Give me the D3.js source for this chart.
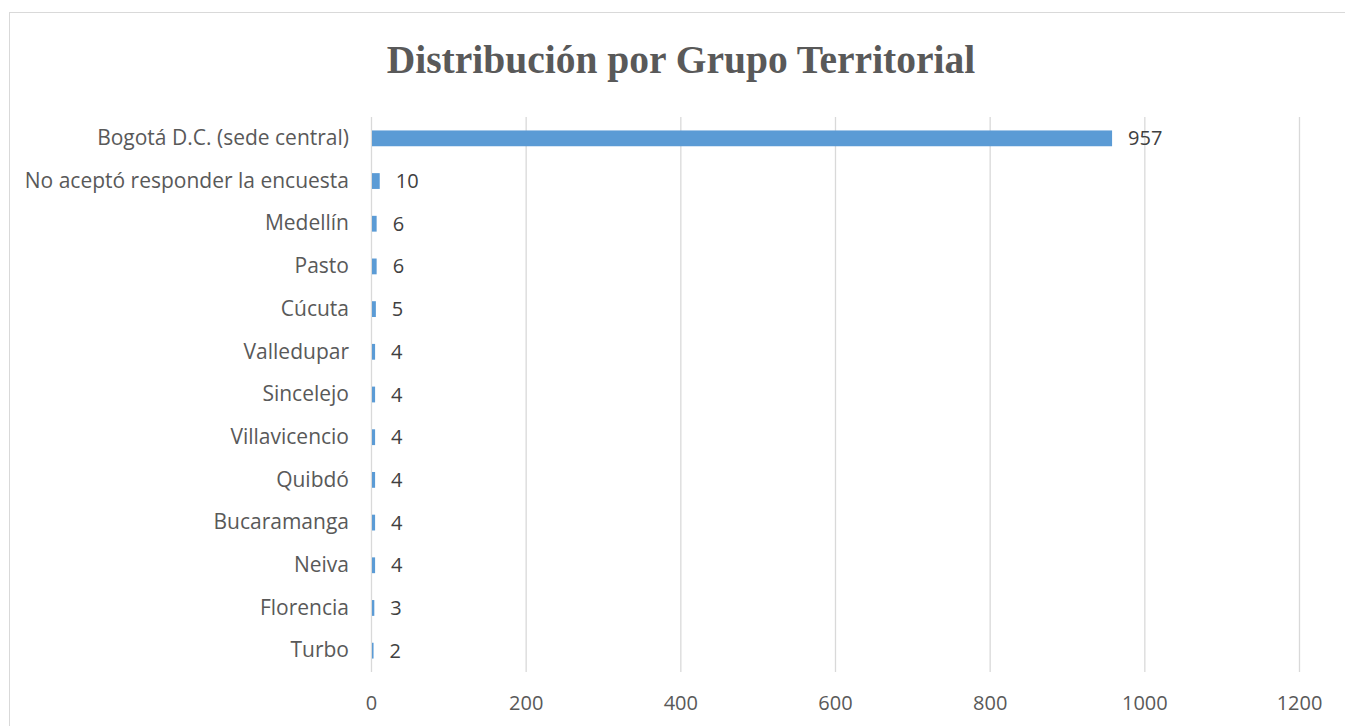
<!DOCTYPE html>
<html>
<head>
<meta charset="utf-8">
<script src="https://cdn.jsdelivr.net/npm/d3@7"></script>
<style>
  body { margin: 0; background: #fff; }
  .tick text { font-family: "Open Sans", sans-serif; }
</style>
</head>
<body>
<div class="chart"></div>
<script>
var categories = ["Bogotá D.C. (sede central)", "No aceptó responder la encuesta", "Medellín", "Pasto",
  "Cúcuta", "Valledupar", "Sincelejo", "Villavicencio", "Quibdó", "Bucaramanga", "Neiva", "Florencia", "Turbo"];
var values = [957, 10, 6, 6, 5, 4, 4, 4, 4, 4, 4, 3, 2];
var xTicks = [0, 200, 400, 600, 800, 1000, 1200];

var svgWidth = 1345;
var svgHeight = 726;
var margin = { top: 117, right: 46, bottom: 54, left: 371 };
var width = svgWidth - margin.left - margin.right;
var height = svgHeight - margin.top - margin.bottom;

var root = d3.select(".chart")
  .append("svg")
  .attr("width", svgWidth)
  .attr("height", svgHeight);

// chart frame
root.append("rect")
  .attr("x", 9.5).attr("y", 12.5)
  .attr("width", svgWidth).attr("height", svgHeight)
  .attr("fill", "none")
  .attr("stroke", "#d9d9d9");

root.append("text")
  .attr("x", 681)
  .attr("y", 73)
  .attr("text-anchor", "middle")
  .attr("font-family", "'Liberation Serif', serif")
  .attr("font-weight", "bold")
  .attr("font-size", 39.5)
  .attr("fill", "#595959")
  .text("Distribución por Grupo Territorial");

var chart = root.append("g")
  .attr("transform", "translate(" + margin.left + "," + margin.top + ")");

var x = d3.scaleLinear().domain([0, 1200]).range([0, width]);
var y = d3.scaleBand().domain(categories).range([0, height]).paddingInner(0.63).paddingOuter(0.315);

// gridlines
chart.append("g")
  .selectAll("line")
  .data(xTicks)
  .enter().append("line")
    .attr("x1", function(d) { return x(d) + 0.5; })
    .attr("x2", function(d) { return x(d) + 0.5; })
    .attr("y1", 0)
    .attr("y2", height)
    .attr("stroke", "#d9d9d9")
    .attr("stroke-width", 1.3);

var bottomAxis = d3.axisBottom(x).tickValues(xTicks).tickFormat(d3.format("d")).tickSize(0).tickPadding(24);
var gx = chart.append("g")
  .attr("transform", "translate(0," + height + ")")
  .call(bottomAxis);
gx.select(".domain").remove();
gx.selectAll("text").attr("font-size", 20).attr("fill", "#595959");

var leftAxis = d3.axisLeft(y).tickSize(0).tickPadding(22);
var gy = chart.append("g").call(leftAxis);
gy.select(".domain").remove();
gy.selectAll("text").attr("font-size", 21).attr("fill", "#595959");

chart.selectAll(".bar")
  .data(values)
  .enter().append("rect")
    .attr("class", "bar")
    .attr("x", x(0) + 1)
    .attr("y", function(d, i) { return y(categories[i]); })
    .attr("width", function(d) { return x(d) - x(0); })
    .attr("height", y.bandwidth())
    .attr("fill", "#5b9bd5");

chart.selectAll(".label")
  .data(values)
  .enter().append("text")
    .attr("class", "label")
    .attr("x", function(d) { return x(d) + 1 + 16; })
    .attr("y", function(d, i) { return y(categories[i]) + y.bandwidth() / 2; })
    .attr("dy", "0.35em")
    .attr("font-family", "'Open Sans', sans-serif")
    .attr("font-size", 20)
    .attr("fill", "#404040")
    .text(function(d) { return d; });
</script>
</body>
</html>
